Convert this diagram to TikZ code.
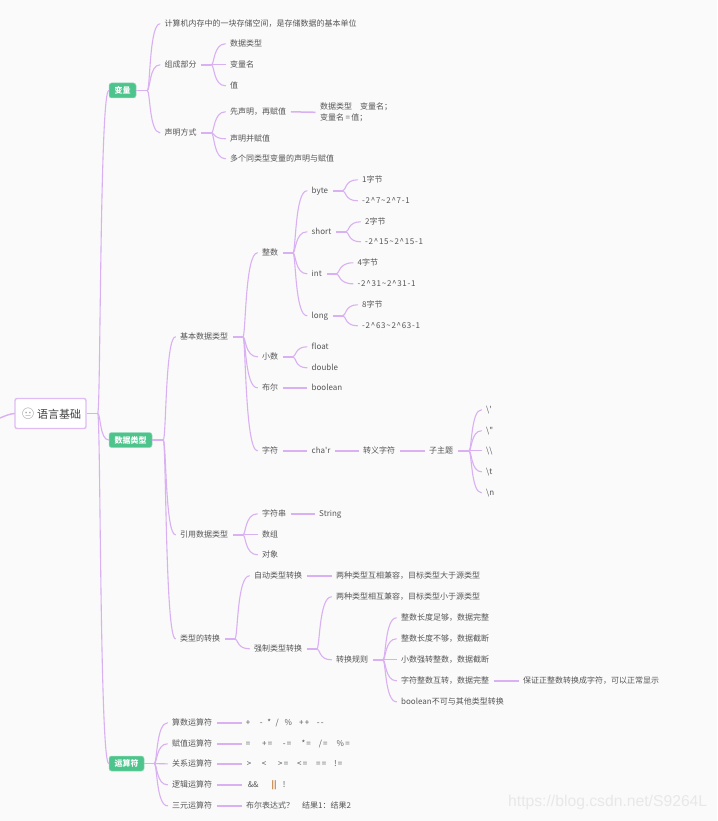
\documentclass[tikz,border=0pt]{standalone}
\usepackage{fontspec}
\setmainfont{Noto Sans CJK SC}
\newfontfamily\plainf{Noto Sans CJK SC}
\newfontfamily\wmfont{Liberation Sans}
\newfontfamily\emofont{Noto Emoji}
\usetikzlibrary{calc}
\definecolor{bgc}{HTML}{FAFAFA}
\definecolor{linec}{HTML}{D9B0F2}
\definecolor{txtc}{HTML}{555555}
\definecolor{pillc}{HTML}{4DC48C}
\tikzset{
  leaf/.style={anchor=west,xshift=-4.5pt,yshift=-0.8pt,inner xsep=4.5pt,inner ysep=1pt,text=txtc,font=\fontsize{8}{10.5}\selectfont,text height=6.5pt,text depth=1.5pt},
  multi/.style={anchor=west,xshift=-4.5pt,yshift=-0.8pt,inner xsep=4.5pt,inner ysep=1pt,text=txtc,font=\fontsize{8}{11}\selectfont,align=left},
  pill/.style={draw=pillc!60!white,line width=.5pt,fill=pillc,rounded corners=2.5pt,text=white,font=\fontsize{8}{10}\bfseries\selectfont,inner sep=0pt,minimum height=15pt},
  rootbox/.style={draw=linec!85!white,line width=1.4pt,fill=white,rounded corners=2pt,minimum width=71pt,minimum height=30pt,inner sep=0pt},
  stub/.style={draw=linec,line width=1.7pt},
  conn/.style={draw=linec,line width=1.1pt,line cap=round},
}
\newcommand\brs[3][10]{%
  \draw[stub] (#2.east) -- ++(#1,0) coordinate (j);
  \foreach \c in {#3}{%
    \draw[conn] (j) .. controls ($(j)+(3,0)$) and ($(j |- \c.west)+(2,0)$) .. (\c.west);
  }%
}
\newcommand\lnk[2]{\draw[stub,line width=1.5pt] (#1.east) -- (#2.west);}
\newcommand\ot[2]{\rlap{\hspace{#1pt}\makebox[0pt]{#2}}}
\newcommand\rng{\plainf\addfontfeature{LetterSpace=9}}
\begin{document}
\begin{tikzpicture}[x=1pt,y=-1pt]
\useasboundingbox (0,0) rectangle (717,821);
\fill[bgc] (0,0) rectangle (717,821);
% watermark
\node[anchor=west,inner sep=0pt,text=black!9,font=\wmfont\fontsize{15.7}{15.7}\selectfont] (wm) at (508,802) {https://blog.csdn.net/S9264L};
% root
\node[rootbox] (root) at (50.5,413.5) {};
\node[inner sep=0pt,anchor=west,font=\fontsize{11}{12}\selectfont,text=black!75] (rt) at (37,414) {语言基础};
\node[inner sep=0pt,font=\emofont\fontsize{11}{12}\selectfont,text=black!45] (emo) at (28,414) {😐};
\coordinate (lft) at (0,418);
\draw[conn,line width=1.4pt] (lft) .. controls (5,416) and (9,414) .. (root.west);
% level 1
\node[pill,minimum width=27pt] (a) at (122.5,90.5) {变量};
\node[pill,minimum width=43pt] (b) at (130.5,440) {数据类型};
\node[pill,minimum width=35pt] (c) at (126.5,763.5) {运算符};
\brs[11]{root}{a,b,c}
% 变量
\node[leaf] (a1) at (164.5,23) {计算机内存中的一块存储空间，是存储数据的基本单位};
\node[leaf] (a2) at (164.5,64) {组成部分};
\node[leaf] (a3) at (164.5,132) {声明方式};
\brs[11]{a}{a1,a2,a3}
\node[leaf] (a21) at (230,43) {数据类型};
\node[leaf] (a22) at (230,64) {变量名};
\node[leaf] (a23) at (230,85) {值};
\brs{a2}{a21,a22,a23}
\node[leaf] (a31) at (230,111) {先声明，再赋值};
\node[leaf] (a32) at (230,138) {声明并赋值};
\node[leaf] (a33) at (230,158) {多个同类型变量的声明与赋值};
\brs{a3}{a31,a32,a33}
\node[multi] (a311) at (320,111.5) {数据类型\quad 变量名；\\变量名\,=\,值；};
\lnk{a31}{a311}
% 数据类型
\node[leaf] (b1) at (180,336) {基本数据类型};
\node[leaf] (b2) at (180,534) {引用数据类型};
\node[leaf] (b3) at (180,638) {类型的转换};
\brs[11]{b}{b1,b2,b3}
\node[leaf] (b11) at (262,252) {整数};
\node[leaf] (b12) at (262,356) {小数};
\node[leaf] (b13) at (262,387) {布尔};
\node[leaf] (b14) at (262,450) {字符};
\brs{b1}{b11,b12,b13,b14}
\node[leaf] (byte) at (311.5,190) {byte};
\node[leaf] (short) at (311.5,231) {short};
\node[leaf] (int) at (311.5,273) {int};
\node[leaf] (long) at (311.5,315) {long};
\brs{b11}{byte,short,int,long}
\node[leaf] (by1) at (362,179) {1字节};
\node[leaf] (by2) at (362,200) {\rng -2\string^7\textasciitilde2\string^7-1};
\brs{byte}{by1,by2}
\node[leaf] (sh1) at (365,221) {2字节};
\node[leaf] (sh2) at (365,241) {\rng -2\string^15\textasciitilde2\string^15-1};
\brs{short}{sh1,sh2}
\node[leaf] (in1) at (357.5,262) {4字节};
\node[leaf] (in2) at (357.5,283) {\rng -2\string^31\textasciitilde2\string^31-1};
\brs{int}{in1,in2}
\node[leaf] (lo1) at (362,304) {8字节};
\node[leaf] (lo2) at (362,325) {\rng -2\string^63\textasciitilde2\string^63-1};
\brs{long}{lo1,lo2}
\node[leaf] (flt) at (311.5,346) {float};
\node[leaf] (dbl) at (311.5,367) {double};
\brs{b12}{flt,dbl}
\node[leaf] (bool) at (311.5,387) {boolean};
\lnk{b13}{bool}
\node[leaf] (chr) at (311.5,450) {\plainf cha'r};
\lnk{b14}{chr}
\node[leaf] (esc) at (363,450) {转义字符};
\lnk{chr}{esc}
\node[leaf] (sub) at (429,450) {子主题};
\lnk{esc}{sub}
\node[leaf] (e1) at (486,409) {\plainf\textbackslash'};
\node[leaf] (e2) at (486,430) {\plainf\textbackslash"};
\node[leaf] (e3) at (486,450) {\textbackslash\textbackslash};
\node[leaf] (e4) at (486,471) {\textbackslash t};
\node[leaf] (e5) at (486,492) {\textbackslash n};
\brs[11]{sub}{e1,e2,e3,e4,e5}
% 引用数据类型
\node[leaf] (b21) at (262,513) {字符串};
\node[leaf] (b22) at (262,534) {数组};
\node[leaf] (b23) at (262,554) {对象};
\brs{b2}{b21,b22,b23}
\node[leaf] (str) at (319,513) {String};
\lnk{b21}{str}
% 类型的转换
\node[leaf] (b31) at (254,575) {自动类型转换};
\node[leaf] (b32) at (254,648) {强制类型转换};
\brs{b3}{b31,b32}
\node[leaf] (b311) at (336,575) {两种类型互相兼容，目标类型大于源类型};
\lnk{b31}{b311}
\node[leaf] (b321) at (336,596) {两种类型相互兼容，目标类型小于源类型};
\node[leaf] (b322) at (336,659) {转换规则};
\brs{b32}{b321,b322}
\node[leaf] (r1) at (401,617) {整数长度足够，数据完整};
\node[leaf] (r2) at (401,638) {整数长度不够，数据截断};
\node[leaf] (r3) at (401,659) {小数强转整数，数据截断};
\node[leaf] (r4) at (401,680) {字符整数互转，数据完整};
\node[leaf] (r5) at (401,701) {boolean不可与其他类型转换};
\brs{b322}{r1,r2,r3,r4,r5}
\node[leaf] (r41) at (523,680) {保证正整数转换成字符，可以正常显示};
\lnk{r4}{r41}
% 运算符
\node[leaf] (c1) at (172,722) {算数运算符};
\node[leaf] (c2) at (172,743) {赋值运算符};
\node[leaf] (c3) at (172,763) {关系运算符};
\node[leaf] (c4) at (172,784) {逻辑运算符};
\node[leaf] (c5) at (172,805) {三元运算符};
\brs{c}{c1,c2,c3,c4,c5}
\node[leaf] (c11) at (246,722) {\plainf\addfontfeature{LetterSpace=15}\ot{2}{+}\ot{15}{-}\ot{23}{*}\ot{31}{/}\ot{42}{\%}\ot{58}{++}\ot{74}{--}\hspace{78pt}};
\node[leaf] (c21) at (246,743) {\plainf\addfontfeature{LetterSpace=15}\ot{2}{=}\ot{21}{+=}\ot{41}{-=}\ot{60}{*=}\ot{77}{/=}\ot{97}{\%=}\hspace{104pt}};
\node[leaf] (c31) at (246,763) {\plainf\addfontfeature{LetterSpace=15}\ot{3}{>}\ot{18}{<}\ot{37}{>=}\ot{56}{<=}\ot{75}{==}\ot{92}{!=}\hspace{97pt}};
\node[leaf] (c41) at (246,784) {\plainf\ot{7}{\&\&}\ot{28}{\textcolor{orange!60!txtc}{\bfseries ||}}\ot{38}{!}\hspace{41pt}};
\node[leaf] (c51) at (246,805) {布尔表达式？\hspace{8pt}结果1：结果2};
\lnk{c1}{c11}
\lnk{c2}{c21}
\lnk{c3}{c31}
\lnk{c4}{c41}
\lnk{c5}{c51}
\end{tikzpicture}
\end{document}
